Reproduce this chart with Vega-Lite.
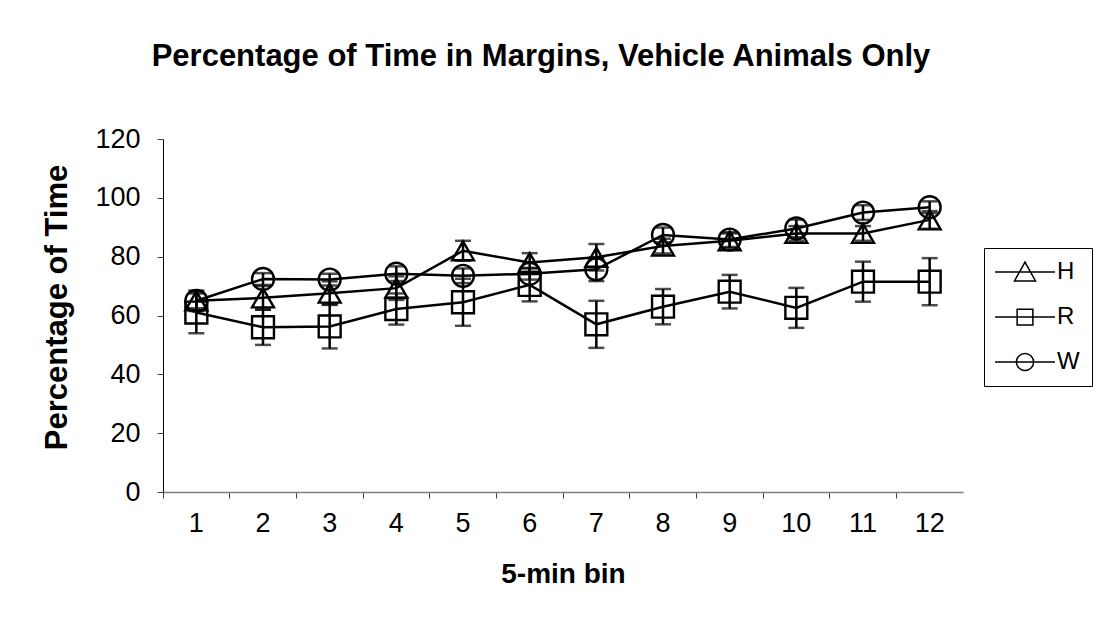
{
  "$schema": "https://vega.github.io/schema/vega-lite/v6.json",
  "width": 800,
  "height": 353,
  "autosize": {"type": "none"},
  "padding": {"left": 163, "top": 139, "right": 138, "bottom": 139},
  "background": "white",
  "config": {
    "view": {"stroke": null},
    "font": "Liberation Sans",
    "axis": {"labelColor": "black", "titleColor": "black", "grid": false, "labelFont": "Liberation Sans", "titleFont": "Liberation Sans"}
  },
  "title": {
    "text": "Percentage of Time in Margins, Vehicle Animals Only",
    "font": "Liberation Sans",
    "fontSize": 31,
    "fontWeight": "bold",
    "color": "black",
    "anchor": "middle",
    "frame": "group",
    "offset": 52,
    "dx": -22
  },
  "data": {
    "values": [
      {"bin": 1, "series": "H", "mean": 65.0, "lo": 61.5, "hi": 68.5},
      {"bin": 2, "series": "H", "mean": 66.0, "lo": 62.0, "hi": 70.0},
      {"bin": 3, "series": "H", "mean": 67.6, "lo": 63.6, "hi": 71.6},
      {"bin": 4, "series": "H", "mean": 69.3, "lo": 65.3, "hi": 73.3},
      {"bin": 5, "series": "H", "mean": 82.0, "lo": 78.6, "hi": 85.4},
      {"bin": 6, "series": "H", "mean": 78.0, "lo": 74.8, "hi": 81.2},
      {"bin": 7, "series": "H", "mean": 79.8, "lo": 75.3, "hi": 84.3},
      {"bin": 8, "series": "H", "mean": 83.6, "lo": 81.1, "hi": 86.1},
      {"bin": 9, "series": "H", "mean": 85.4, "lo": 82.9, "hi": 87.9},
      {"bin": 10, "series": "H", "mean": 87.9, "lo": 85.4, "hi": 90.4},
      {"bin": 11, "series": "H", "mean": 87.9, "lo": 85.4, "hi": 90.4},
      {"bin": 12, "series": "H", "mean": 92.5, "lo": 89.5, "hi": 95.5},
      {"bin": 1, "series": "R", "mean": 61.0, "lo": 54.0, "hi": 68.0},
      {"bin": 2, "series": "R", "mean": 56.0, "lo": 50.0, "hi": 62.0},
      {"bin": 3, "series": "R", "mean": 56.3, "lo": 48.8, "hi": 63.8},
      {"bin": 4, "series": "R", "mean": 62.2, "lo": 56.9, "hi": 67.5},
      {"bin": 5, "series": "R", "mean": 64.5, "lo": 56.5, "hi": 72.5},
      {"bin": 6, "series": "R", "mean": 70.4, "lo": 64.8, "hi": 76.0},
      {"bin": 7, "series": "R", "mean": 57.0, "lo": 49.0, "hi": 65.0},
      {"bin": 8, "series": "R", "mean": 63.0, "lo": 57.0, "hi": 69.0},
      {"bin": 9, "series": "R", "mean": 68.1, "lo": 62.4, "hi": 73.8},
      {"bin": 10, "series": "R", "mean": 62.6, "lo": 55.8, "hi": 69.4},
      {"bin": 11, "series": "R", "mean": 71.5, "lo": 64.7, "hi": 78.3},
      {"bin": 12, "series": "R", "mean": 71.5, "lo": 63.5, "hi": 79.5},
      {"bin": 1, "series": "W", "mean": 65.0, "lo": 62.5, "hi": 67.5},
      {"bin": 2, "series": "W", "mean": 72.4, "lo": 70.4, "hi": 74.4},
      {"bin": 3, "series": "W", "mean": 72.2, "lo": 70.2, "hi": 74.2},
      {"bin": 4, "series": "W", "mean": 74.2, "lo": 71.7, "hi": 76.7},
      {"bin": 5, "series": "W", "mean": 73.5, "lo": 71.0, "hi": 76.0},
      {"bin": 6, "series": "W", "mean": 74.2, "lo": 72.2, "hi": 76.2},
      {"bin": 7, "series": "W", "mean": 75.7, "lo": 71.7, "hi": 79.7},
      {"bin": 8, "series": "W", "mean": 87.4, "lo": 84.9, "hi": 89.9},
      {"bin": 9, "series": "W", "mean": 85.8, "lo": 83.3, "hi": 88.3},
      {"bin": 10, "series": "W", "mean": 89.6, "lo": 86.6, "hi": 92.6},
      {"bin": 11, "series": "W", "mean": 95.0, "lo": 92.5, "hi": 97.5},
      {"bin": 12, "series": "W", "mean": 96.8, "lo": 94.8, "hi": 98.8}
    ]
  },
  "encoding": {
    "x": {
      "field": "bin",
      "type": "ordinal",
      "scale": {"paddingInner": 0, "paddingOuter": 0},
      "title": "5-min bin",
      "axis": {
        "bandPosition": 0,
        "labelAngle": 0,
        "labelFontSize": 27,
        "labelPadding": 12,
        "tickSize": 6,
        "tickColor": "#404040",
        "domainColor": "#808080",
        "domainWidth": 1.5,
        "titleFontSize": 28,
        "titleFontWeight": "bold",
        "titleX": 400,
        "titleY": 90,
        "titleBaseline": "alphabetic"
      }
    },
    "y": {
      "field": "mean",
      "type": "quantitative",
      "title": "Percentage of Time",
      "scale": {"domain": [0, 120]},
      "axis": {
        "values": [0, 20, 40, 60, 80, 100, 120],
        "labelFontSize": 27,
        "labelPadding": 17,
        "tickSize": 6,
        "tickColor": "#404040",
        "domainColor": "black",
        "titleFontSize": 31,
        "titleFontWeight": "bold",
        "titleAngle": -90,
        "titleX": -106,
        "titleY": 168,
        "titleAlign": "center",
        "titleBaseline": "middle"
      }
    }
  },
  "resolve": {"scale": {"shape": "independent"}, "legend": {"shape": "independent"}},
  "layer": [
    {
      "mark": {"type": "rule", "color": "black", "strokeWidth": 2.5},
      "encoding": {
        "y": {"field": "lo", "type": "quantitative", "title": "Percentage of Time"},
        "y2": {"field": "hi"}
      }
    },
    {
      "mark": {"type": "tick", "orient": "horizontal", "color": "black", "size": 16, "thickness": 2.5},
      "encoding": {
        "y": {"field": "lo", "type": "quantitative", "title": "Percentage of Time"}
      }
    },
    {
      "mark": {"type": "tick", "orient": "horizontal", "color": "black", "size": 16, "thickness": 2.5},
      "encoding": {
        "y": {"field": "hi", "type": "quantitative", "title": "Percentage of Time"}
      }
    },
    {
      "mark": {"type": "line", "color": "black", "strokeWidth": 2.5},
      "encoding": {
        "detail": {"field": "series", "type": "nominal"}
      }
    },
    {
      "mark": {"type": "point", "filled": false, "color": "black", "strokeWidth": 2.4, "size": 480, "opacity": 1},
      "encoding": {
        "shape": {
          "field": "series",
          "type": "nominal",
          "scale": {"domain": ["H", "R", "W"], "range": ["triangle-up", "square", "circle"]},
          "legend": null
        }
      }
    },
    {
      "mark": {"type": "point", "filled": false, "color": "black", "strokeWidth": 1.5, "size": 400, "opacity": 0},
      "encoding": {
        "shape": {
          "field": "series",
          "type": "nominal",
          "scale": {
            "domain": ["H", "R", "W"],
            "range": [
              "M-2.85,0H2.85M0,-0.95L1,0.85L-1,0.85Z",
              "M-2.85,0H2.85M-0.75,-0.75H0.75V0.75H-0.75Z",
              "M-2.85,0H2.85M-0.82,0A0.82,0.82 0 1,0 0.82,0A0.82,0.82 0 1,0 -0.82,0Z"
            ]
          },
          "legend": {
            "title": null,
            "orient": "none",
            "legendX": 821,
            "legendY": 109,
            "strokeColor": "black",
            "fillColor": "white",
            "padding": 12,
            "labelFontSize": 24,
            "labelFont": "Liberation Sans",
            "labelColor": "black",
            "symbolSize": 441,
            "symbolStrokeWidth": 1.5,
            "symbolStrokeColor": "black",
            "symbolFillColor": "transparent",
            "symbolOffset": 17,
            "labelOffset": 20,
            "rowPadding": 21
          }
        }
      }
    }
  ]
}
